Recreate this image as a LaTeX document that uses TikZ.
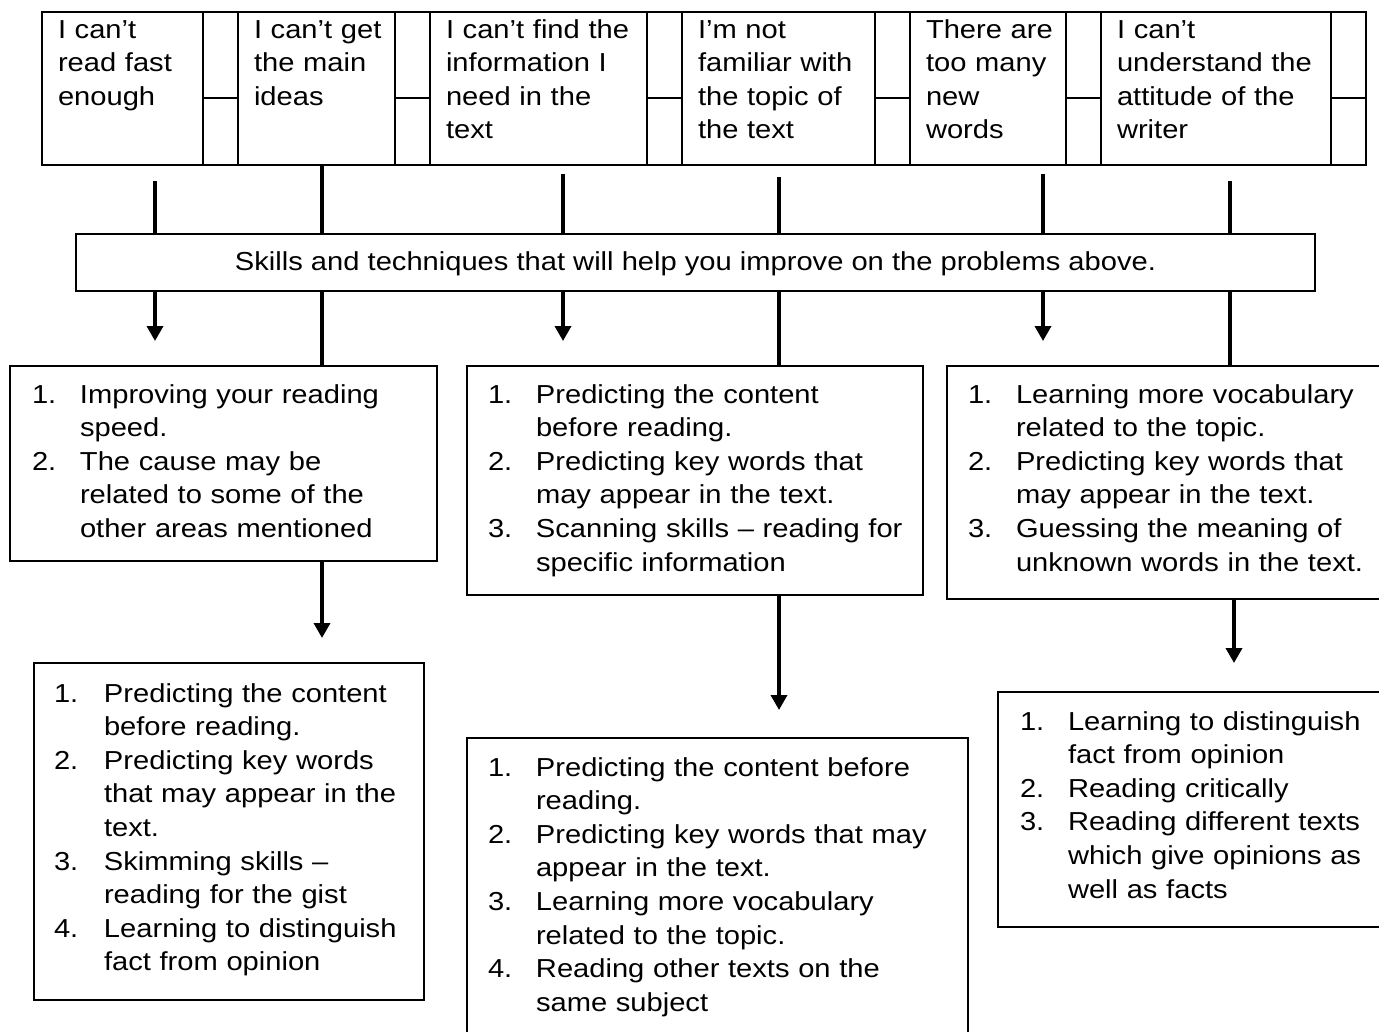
\documentclass[tikz,border=0pt]{standalone}
\usepackage{fontspec}
\setmainfont{Liberation Sans}[FakeStretch=1.12]
\usetikzlibrary{arrows.meta}
\newcommand\litem[2]{\hangindent=48pt\hangafter=1\noindent\hbox to 48pt{#1\hfil}{\let\\\newline#2}\par}
\newcommand\litemE[2]{\hangindent=50pt\hangafter=1\noindent\hbox to 50pt{#1\hfil}{\let\\\newline#2}\par}
\begin{document}
\begin{tikzpicture}[x=1pt,y=-1pt,
  box/.style={draw, line width=2pt, anchor=north west, inner sep=0pt, outer sep=0pt},
  txt/.style={anchor=base west, inner sep=0pt, outer sep=0pt, align=left, text width=#1, font=\fontsize{26}{33.6}\selectfont},
  txt/.default=440pt,
  conn/.style={line width=3.5pt},
  arr/.style={line width=3.5pt, -{Triangle[width=16pt,length=15pt]}}]
\clip (0,0) rectangle (1379,1031);
% ---------- top table ----------
\node[box, minimum width=161pt, minimum height=153pt] (c1) at (42,12) {};
\node[box, minimum width=35pt, minimum height=86pt] (s1a) at (203,12) {};
\node[box, minimum width=35pt, minimum height=67pt] (s1b) at (203,98) {};
\node[box, minimum width=157pt, minimum height=153pt] (c2) at (238,12) {};
\node[box, minimum width=35pt, minimum height=86pt] (s2a) at (395,12) {};
\node[box, minimum width=35pt, minimum height=67pt] (s2b) at (395,98) {};
\node[box, minimum width=217pt, minimum height=153pt] (c3) at (430,12) {};
\node[box, minimum width=35pt, minimum height=86pt] (s3a) at (647,12) {};
\node[box, minimum width=35pt, minimum height=67pt] (s3b) at (647,98) {};
\node[box, minimum width=193pt, minimum height=153pt] (c4) at (682,12) {};
\node[box, minimum width=35pt, minimum height=86pt] (s4a) at (875,12) {};
\node[box, minimum width=35pt, minimum height=67pt] (s4b) at (875,98) {};
\node[box, minimum width=156pt, minimum height=153pt] (c5) at (910,12) {};
\node[box, minimum width=35pt, minimum height=86pt] (s5a) at (1066,12) {};
\node[box, minimum width=35pt, minimum height=67pt] (s5b) at (1066,98) {};
\node[box, minimum width=230pt, minimum height=153pt] (c6) at (1101,12) {};
\node[box, minimum width=35pt, minimum height=86pt] (s6a) at (1331,12) {};
\node[box, minimum width=35pt, minimum height=67pt] (s6b) at (1331,98) {};
\node[txt=200pt] (c1t) at (58,38) {I can’t\\read fast\\enough};
\node[txt=200pt] (c2t) at (254,38) {I can’t get\\the main\\ideas};
\node[txt=250pt] (c3t) at (446,38) {I can’t find the\\information I\\need in the\\text};
\node[txt=200pt] (c4t) at (698,38) {I’m not\\familiar with\\the topic of\\the text};
\node[txt=200pt] (c5t) at (926,38) {There are\\too many\\new\\words};
\node[txt=250pt] (c6t) at (1117,38) {I can’t\\understand the\\attitude of the\\writer};
% ---------- middle box ----------
\node[box, minimum width=1239pt, minimum height=57pt] (mid) at (76,234) {};
\node[anchor=base, inner sep=0pt, font=\fontsize{26}{33.6}\selectfont] (midt) at (695.5,270)
  {Skills and techniques that will help you improve on the problems above.};
% ---------- skill boxes ----------
\node[box, minimum width=427pt, minimum height=195pt] (bA) at (10,366) {};
\node[box, minimum width=456pt, minimum height=229pt] (bB) at (467,366) {};
\node[box, minimum width=460pt, minimum height=233pt] (bC) at (947,366) {};
\node[box, minimum width=390pt, minimum height=337pt] (bE) at (34,663) {};
\node[box, minimum width=501pt, minimum height=320pt] (bD) at (467,738) {};
\node[box, minimum width=410pt, minimum height=235pt] (bF) at (998,692) {};
\node[txt] (bAt) at (32,403) {%
  \litem{1.}{Improving your reading\\speed.}%
  \litem{2.}{The cause may be\\related to some of the\\other areas mentioned}};
\node[txt] (bBt) at (488,403) {%
  \litem{1.}{Predicting the content\\before reading.}%
  \litem{2.}{Predicting key words that\\may appear in the text.}%
  \litem{3.}{Scanning skills -- reading for\\specific information}};
\node[txt] (bCt) at (968,403) {%
  \litem{1.}{Learning more vocabulary\\related to the topic.}%
  \litem{2.}{Predicting key words that\\may appear in the text.}%
  \litem{3.}{Guessing the meaning of\\unknown words in the text.}};
\node[txt] (bEt) at (54,702) {%
  \litemE{1.}{Predicting the content\\before reading.}%
  \litemE{2.}{Predicting key words\\that may appear in the\\text.}%
  \litemE{3.}{Skimming skills --\\reading for the gist}%
  \litemE{4.}{Learning to distinguish\\fact from opinion}};
\node[txt] (bDt) at (488,776) {%
  \litem{1.}{Predicting the content before\\reading.}%
  \litem{2.}{Predicting key words that may\\appear in the text.}%
  \litem{3.}{Learning more vocabulary\\related to the topic.}%
  \litem{4.}{Reading other texts on the\\same subject}};
\node[txt] (bFt) at (1020,730) {%
  \litem{1.}{Learning to distinguish\\fact from opinion}%
  \litem{2.}{Reading critically}%
  \litem{3.}{Reading different texts\\which give opinions as\\well as facts}};
% ---------- connectors ----------
\coordinate (t1) at (155,181);
\coordinate (t2) at (322,165);
\coordinate (t3) at (563,174);
\coordinate (t4) at (779,177);
\coordinate (t5) at (1043,174);
\coordinate (t6) at (1230,181);
\coordinate (a1) at (155,341);
\coordinate (a3) at (563,341);
\coordinate (a5) at (1043,341);
\coordinate (aA) at (322,638);
\coordinate (aB) at (779,710);
\coordinate (aC) at (1234,663);
\foreach \t in {t1,t2,t3,t4,t5,t6} {\draw[conn] (\t) -- (\t |- mid.north);}
\draw[arr] (t1 |- mid.south) -- (a1);
\draw[arr] (t3 |- mid.south) -- (a3);
\draw[arr] (t5 |- mid.south) -- (a5);
\draw[conn] (t2 |- mid.south) -- (t2 |- bA.north);
\draw[conn] (t4 |- mid.south) -- (t4 |- bB.north);
\draw[conn] (t6 |- mid.south) -- (t6 |- bC.north);
\draw[arr] (aA |- bA.south) -- (aA);
\draw[arr] (aB |- bB.south) -- (aB);
\draw[arr] (aC |- bC.south) -- (aC);
\end{tikzpicture}
\end{document}
